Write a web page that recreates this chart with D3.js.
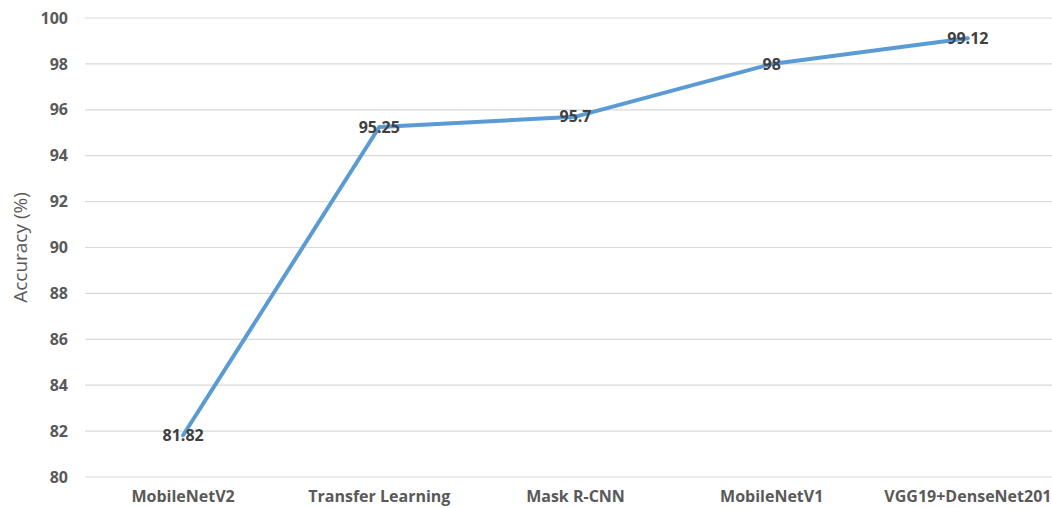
<!DOCTYPE html>
<html>
<head>
<meta charset="utf-8">
<script src="https://cdn.jsdelivr.net/npm/d3@7"></script>
<style>
  html, body { margin: 0; padding: 0; background: #fff; }
  svg { display: block; font-family: 'Open Sans', 'Noto Sans', sans-serif; }
</style>
</head>
<body>
<div id="chart"></div>
<script>
const models = ['MobileNetV2', 'Transfer Learning', 'Mask R-CNN', 'MobileNetV1', 'VGG19+DenseNet201'];
const accuracy = [81.82, 95.25, 95.7, 98, 99.12];
const accuracyLabels = ['81.82', '95.25', '95.7', '98', '99.12'];
const yTicks = [80, 82, 84, 86, 88, 90, 92, 94, 96, 98, 100];

const width = 1052, height = 508;
// plot area runs past the right edge, as in the cropped original
const margin = { top: 18, right: -14, bottom: 31, left: 85 };

const svg = d3.select('#chart')
  .append('svg')
  .attr('width', width)
  .attr('height', height);

const x = d3.scaleBand()
  .domain(models)
  .range([margin.left, width - margin.right]);

const y = d3.scaleLinear()
  .domain([80, 100])
  .range([height - margin.bottom, margin.top]);

// gridlines
svg.append('g')
  .selectAll('line')
  .data(yTicks)
  .join('line')
  .attr('x1', margin.left)
  .attr('x2', width - margin.right)
  .attr('y1', d => y(d))
  .attr('y2', d => y(d))
  .attr('stroke', '#d9d9d9')
  .attr('stroke-width', 1.2);

// y axis labels
const yAxis = svg.append('g')
  .attr('transform', `translate(${margin.left - 17},0)`)
  .call(d3.axisLeft(y).tickValues(yTicks).tickSize(0).tickPadding(0));
yAxis.select('.domain').remove();
yAxis.selectAll('text')
  .attr('font-size', 16)
  .attr('font-weight', 'bold')
  .attr('fill', '#595959')
  .style('font-family', "'Open Sans', sans-serif");

// x axis labels (kept just inside the bottom edge)
const xAxis = svg.append('g')
  .attr('transform', `translate(0,${height - margin.bottom + 14})`)
  .call(d3.axisBottom(x).tickSize(0).tickPadding(0));
xAxis.select('.domain').remove();
xAxis.selectAll('text')
  .attr('font-size', 16)
  .attr('font-weight', 'bold')
  .attr('fill', '#595959')
  .style('font-family', "'Open Sans', sans-serif");

// y axis title
svg.append('text')
  .attr('transform', `translate(27,${y(90)}) rotate(-90)`)
  .attr('text-anchor', 'middle')
  .attr('font-size', 19)
  .attr('fill', '#595959')
  .text('Accuracy (%)');

// line
const line = d3.line()
  .x((d, i) => x(models[i]) + x.bandwidth() / 2)
  .y(d => y(d));

svg.append('path')
  .datum(accuracy)
  .attr('fill', 'none')
  .attr('stroke', '#5b9bd5')
  .attr('stroke-width', 4)
  .attr('stroke-linejoin', 'round')
  .attr('stroke-linecap', 'round')
  .attr('d', line);

// data labels, centred on the points
svg.append('g')
  .selectAll('text')
  .data(accuracy)
  .join('text')
  .attr('x', (d, i) => x(models[i]) + x.bandwidth() / 2)
  .attr('y', d => y(d))
  .attr('dy', '0.36em')
  .attr('text-anchor', 'middle')
  .attr('font-size', 16)
  .attr('font-weight', 'bold')
  .attr('fill', '#404040')
  .text((d, i) => accuracyLabels[i]);
</script>
</body>
</html>
